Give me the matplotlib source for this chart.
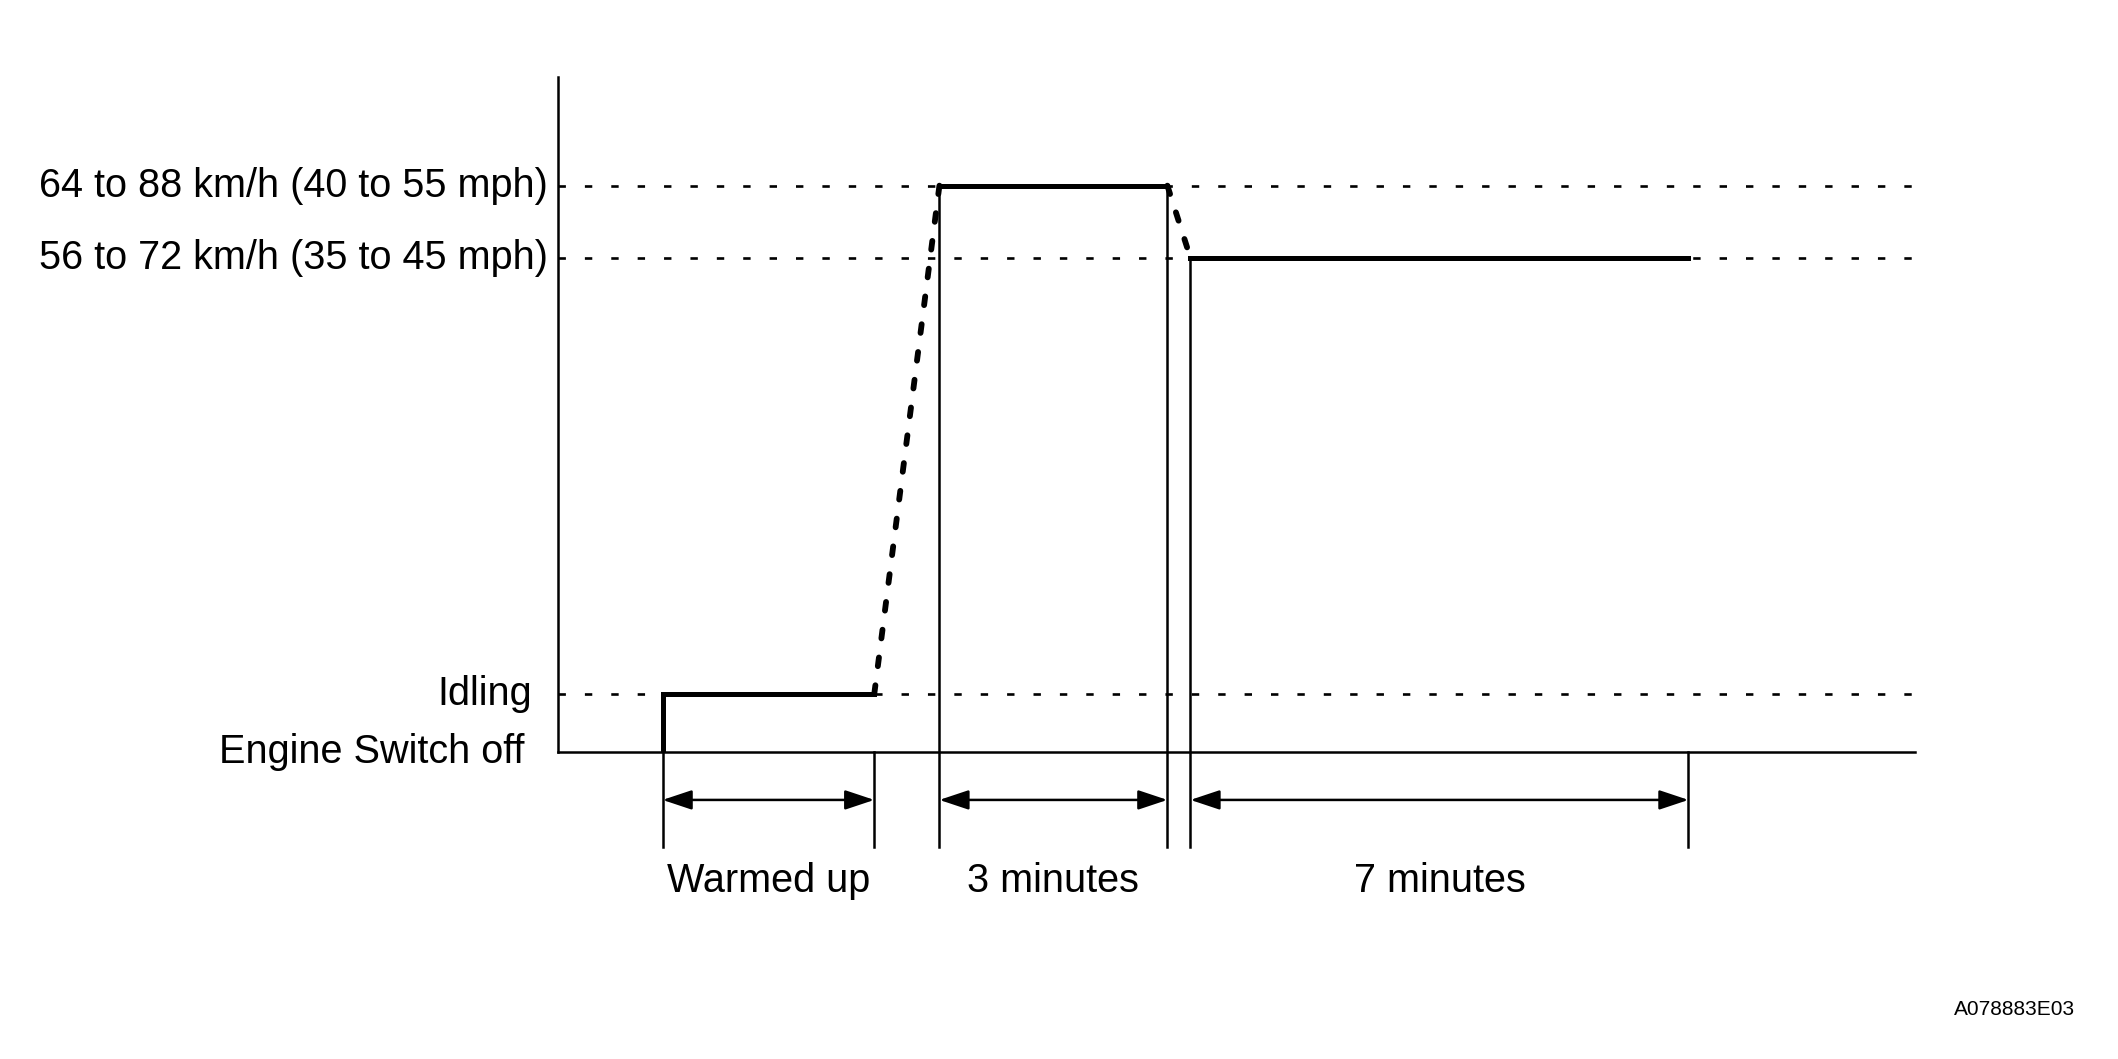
import matplotlib.pyplot as plt

plt.rcParams['font.family'] = ['Liberation Sans', 'DejaVu Sans']

# schematic levels (y) and event times (x), arbitrary units
level_names = ['Engine Switch off', 'Idling',
               '56 to 72 km/h (35 to 45 mph)', '64 to 88 km/h (40 to 55 mph)']
level_vals = [0.0, 0.86, 7.32, 8.39]
label_offsets = [-2.5, -1.9, -0.75, -0.75]

t_on = 7.7        # engine switched on
t_warm = 23.3     # warmed up
t_high = 28.1     # reached 64-88 km/h
t_hold = 44.9     # end of 3 minutes
t_low = 46.6      # reached 56-72 km/h
t_end = 83.3      # end of 7 minutes

spans = [(t_on, t_warm, 'Warmed up'),
         (t_high, t_hold, '3 minutes'),
         (t_low, t_end, '7 minutes')]

off, idle, low, high = level_vals

fig = plt.figure(figsize=(21.18, 10.59), dpi=100)
ax = fig.add_axes([0.2635, 0.2899, 0.6407, 0.6374])
ax.set_xlim(0, 100)
ax.set_ylim(0, 10)
for s in ['top', 'right']:
    ax.spines[s].set_visible(False)
for s in ['left', 'bottom']:
    ax.spines[s].set_linewidth(1.8)
ax.set_xticks([])
ax.set_yticks([])

# dashed reference levels
for v in level_vals[1:]:
    ax.plot([0, 100], [v, v], color='black', lw=1.9, dashes=(2.8, 7.2), zorder=1)

# solid speed profile
ax.plot([t_on, t_on, t_warm], [off, idle, idle], color='black', lw=3.6,
        solid_joinstyle='miter', zorder=3)
ax.plot([t_high, t_hold], [high, high], color='black', lw=3.6, zorder=3)
ax.plot([t_low, t_end], [low, low], color='black', lw=3.6, zorder=3)

# dotted transitions
for xs, ys in [([t_warm, t_high], [idle, high]), ([t_hold, t_low], [high, low])]:
    ax.plot(xs, ys, color='black', lw=4.2, dashes=(1.5, 3.3),
            dash_capstyle='round', zorder=3)

# extension lines
y_bot = -1.41
y_arr = -0.71
y_txt = -1.91
ext = [(t_on, off), (t_warm, off), (t_high, high), (t_hold, high),
       (t_low, low), (t_end, off)]
for x, ytop in ext:
    ax.plot([x, x], [ytop, y_bot], color='black', lw=1.8, clip_on=False, zorder=2)

# dimension arrows and labels
for x0, x1, lab in spans:
    ax.annotate('', xy=(x1, y_arr), xytext=(x0, y_arr), annotation_clip=False,
                arrowprops=dict(arrowstyle='<|-|>,head_length=0.6,head_width=0.2',
                                color='black', lw=1.8,
                                mutation_scale=30, shrinkA=0, shrinkB=0))
    ax.text((x0 + x1) / 2, y_txt, lab, ha='center', va='center', fontsize=28.5)

# level labels
for name, v, xo in zip(level_names, level_vals, label_offsets):
    ax.text(xo, v, name, ha='right', va='center', fontsize=28.5)

fig.text(0.951, 0.0463, 'A078883E03', ha='center', va='center', fontsize=15)

fig.savefig('out.png', dpi=100)
